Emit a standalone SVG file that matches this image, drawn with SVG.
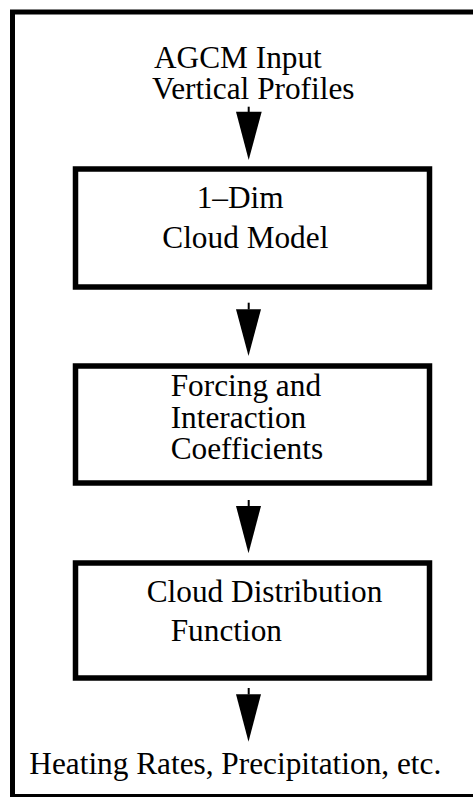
<svg xmlns="http://www.w3.org/2000/svg" width="473" height="797" viewBox="0 0 473 797">
<style>
text{font-family:"Liberation Serif","Times New Roman",serif;font-size:31.3px;fill:#000}
.box{fill:#fff;stroke:#000;stroke-width:5.5}
.frame{fill:none;stroke:#000;stroke-width:5}
.stem{stroke:#000;stroke-width:2}
.head{fill:#000}
</style>
<rect class="frame" x="12.5" y="12" width="475" height="784.5"/>
<g id="input">
<text x="154" y="68.3">AGCM Input</text>
<text x="152" y="99.3">Vertical Profiles</text>
</g>
<g id="cloud-model">
<rect class="box" x="75.5" y="169" width="354" height="118"/>
<text x="196.7" y="208.3">1–Dim</text>
<text x="162.3" y="248.3">Cloud Model</text>
</g>
<g id="forcing">
<rect class="box" x="75.5" y="366" width="354" height="117"/>
<text x="170.7" y="396">Forcing and</text>
<text x="170.7" y="428">Interaction</text>
<text x="170.7" y="459.3">Coefficients</text>
</g>
<g id="distribution">
<rect class="box" x="75.5" y="563" width="354" height="115"/>
<text x="146.7" y="601.7">Cloud Distribution</text>
<text x="170.7" y="640.7">Function</text>
</g>
<g id="output">
<text x="29.3" y="774">Heating Rates, Precipitation, etc.</text>
</g>
<g id="connectors">
<line class="stem" x1="248.7" y1="106.7" x2="248.7" y2="112"/>
<polygon class="head" points="236,111.7 261.7,111.7 248.7,160"/>
<line class="stem" x1="248.7" y1="302.7" x2="248.7" y2="309.5"/>
<polygon class="head" points="236,309.3 261,309.3 248.5,356"/>
<line class="stem" x1="248.7" y1="500" x2="248.7" y2="506.3"/>
<polygon class="head" points="236,506 261,506 248.5,553.3"/>
<line class="stem" x1="248.7" y1="688" x2="248.7" y2="694.5"/>
<polygon class="head" points="236,694.3 261,694.3 248.5,741.7"/>
</g>
</svg>
